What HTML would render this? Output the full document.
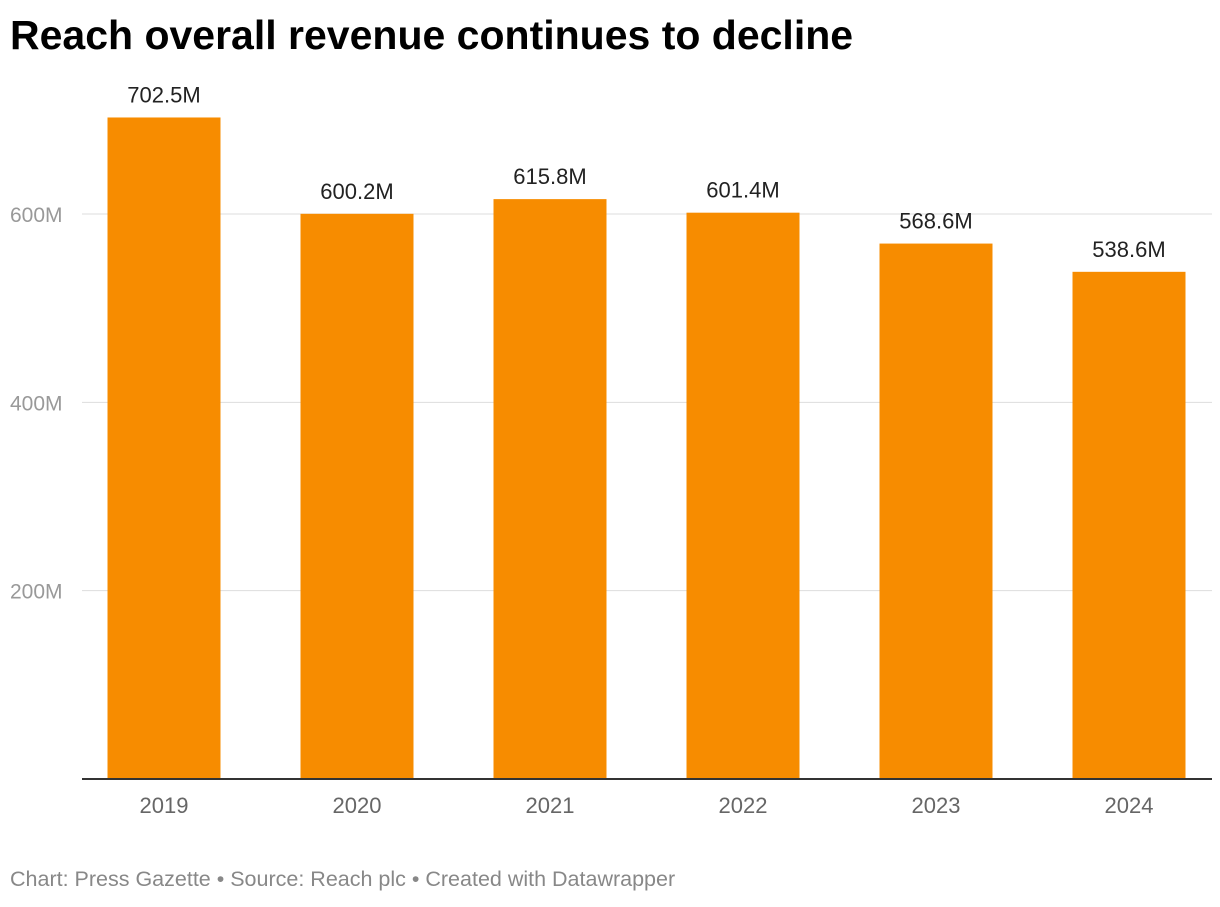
<!DOCTYPE html>
<html><head><meta charset="utf-8"><style>
body{margin:0;background:#fff;width:1220px;height:902px;overflow:hidden;font-family:"Liberation Sans",Arial,sans-serif}
</style></head><body>
<svg width="1220" height="902">
<text x="10" y="49" font-size="41" font-weight="bold" fill="#000">Reach overall revenue continues to decline</text>
<g id="grid"></g><g id="bars"></g>
<line x1="82" x2="1212" y1="779" y2="779" stroke="#333" stroke-width="2"/>
<text x="10" y="886" font-size="21.5" fill="#888">Chart: Press Gazette • Source: Reach plc • Created with Datawrapper</text>
</svg>
<script>
const categories=["2019","2020","2021","2022","2023","2024"];
const values=[702.5,600.2,615.8,601.4,568.6,538.6];
const valueLabels=["702.5M","600.2M","615.8M","601.4M","568.6M","538.6M"];
const ticks=[200,400,600];
const tickLabels=["200M","400M","600M"];
const NS="http://www.w3.org/2000/svg";
const y=v=>779-v*(565/600);
const xc=i=>164+i*193;
function mk(t,a,p){const e=document.createElementNS(NS,t);for(const k in a)e.setAttribute(k,a[k]);p.appendChild(e);return e;}
const g=document.getElementById('grid'),b=document.getElementById('bars');
ticks.forEach((t,i)=>{
 const l=mk('line',{x1:82,x2:1212,y1:y(t),y2:y(t),stroke:'#ddd','stroke-width':1},g);
 
 
 const tx=mk('text',{x:10,y:y(t)+8,'font-size':21,fill:'#999'},g);tx.textContent=tickLabels[i];
 
 
});
categories.forEach((c,i)=>{
 const r=mk('rect',{x:xc(i)-56.5,y:y(values[i]),width:113,height:779-y(values[i]),fill:'#f78c00'},b);
 
 
 const v=mk('text',{x:xc(i),y:y(values[i])-15,'font-size':22,fill:'#222','text-anchor':'middle'},b);v.textContent=valueLabels[i];
 
 
 const x=mk('text',{x:xc(i),y:813,'font-size':22,fill:'#666','text-anchor':'middle'},b);x.textContent=c;
 
 
});
</script>
</body></html>
